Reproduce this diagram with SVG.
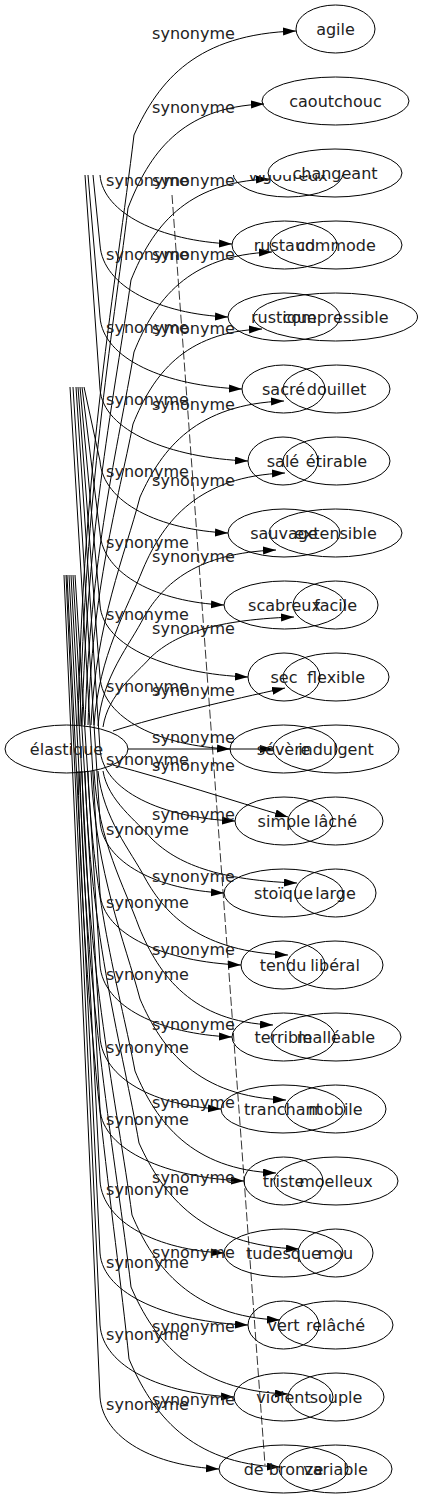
<svg xmlns="http://www.w3.org/2000/svg" width="423" height="1499" viewBox="0 0 423 1499">
<style>
.n ellipse{fill:none;stroke:#000;stroke-width:1}
.n text,.lbl{font-family:"DejaVu Sans",Verdana,sans-serif;font-size:16px;fill:#222;text-anchor:middle}
.e path{fill:none;stroke:#000;stroke-width:1;marker-end:url(#arr)}
.dash{fill:none;stroke:#000;stroke-width:0.8;stroke-dasharray:9,3}
</style>
<defs>
<marker id="arr" markerUnits="userSpaceOnUse" markerWidth="14" markerHeight="9" refX="13" refY="4" orient="auto"><path d="M0,0 L13,4 L0,8 z" fill="#000"/></marker>
<clipPath id="clipB"><rect x="0" y="175" width="423" height="1324"/></clipPath>
</defs>
<rect width="423" height="1499" fill="#fff"/>
<g id="edges" class="e">
<path d="M78,725 C83,460 116,285 134,135 C159,80 197,34 296,31"/>
<path d="M80,725 C85,493 112,339 128,208 C149,154 181,107 264,104"/>
<path d="M82,725 C87,525 115,393 131,280 C152,228 185,182 269,179"/>
<path d="M85,725 C90,557 118,447 134,352 C155,300 188,255 272,252"/>
<path d="M88,725 C92,590 118,501 133,424 C153,375 184,332 262,329"/>
<path d="M91,725 C96,622 125,555 140,497 C162,448 197,404 284,401"/>
<path d="M94,725 C99,655 127,609 143,569 C164,520 199,476 285,473"/>
<path d="M98,726 C102,676 130,645 144,617 C164,583 197,553 276,550"/>
<path d="M103,727 C108,694 136,674 150,658 C172,637 207,620 294,617"/>
<path d="M113,731 C160,716 230,700 285,688"/>
<path d="M128,749 L273,749"/>
<path d="M113,765 C170,780 230,800 288,817"/>
<path d="M103,771 C108,801 137,821 151,838 C173,860 210,880 297,883"/>
<path d="M98,771 C103,819 131,851 145,878 C166,916 202,952 288,955"/>
<path d="M94,771 C98,841 125,888 139,927 C159,976 193,1022 273,1025"/>
<path d="M91,771 C96,874 125,942 140,999 C162,1050 198,1097 286,1100"/>
<path d="M88,771 C93,906 121,996 135,1071 C156,1122 192,1170 276,1173"/>
<path d="M85,771 C90,938 123,1050 139,1143 C163,1196 203,1246 299,1249"/>
<path d="M82,771 C87,971 117,1104 132,1215 C154,1267 192,1317 280,1320"/>
<path d="M80,771 C85,1003 116,1158 131,1287 C154,1340 193,1391 288,1394"/>
<path d="M78,771 C83,1036 114,1212 129,1359 C152,1413 190,1464 280,1467"/>
<path d="M100,175 C103,213 160,241 232,244"/>
<path d="M93,175 L100,245 C103,287 160,314 228,317"/>
<path d="M88,175 L100,317 C103,359 165,386 242,389"/>
<path d="M85,175 L100,389 C103,431 170,458 248,461"/>
<path d="M84,387 L100,461 C103,503 160,530 228,533"/>
<path d="M82,387 L100,533 C103,575 158,602 224,605"/>
<path d="M80,387 L100,605 C103,647 170,674 248,677"/>
<path d="M78,387 L100,677 C103,719 160,746 230,749"/>
<path d="M76,387 L100,749 C103,791 162,818 235,821"/>
<path d="M73,387 L100,821 C103,863 158,890 224,893"/>
<path d="M70,387 L100,893 C103,935 165,962 241,965"/>
<path d="M75,575 L100,965 C103,1007 160,1034 232,1037"/>
<path d="M73,575 L100,1037 C103,1079 155,1106 221,1109"/>
<path d="M71,575 L100,1109 C103,1151 168,1178 244,1181"/>
<path d="M69,575 L100,1181 C103,1223 158,1250 224,1253"/>
<path d="M67,575 L100,1253 C103,1295 170,1322 248,1325"/>
<path d="M66,575 L100,1325 C103,1367 162,1394 234,1397"/>
<path d="M64,575 L100,1397 C103,1439 155,1466 219,1469"/>
<line class="dash" x1="172" y1="195" x2="265" y2="1465"/>
</g>
<g id="labels">
<text class="lbl" x="193.5" y="39">synonyme</text>
<text class="lbl" x="193.5" y="113">synonyme</text>
<text class="lbl" x="193.5" y="186">synonyme</text>
<text class="lbl" x="193.5" y="260">synonyme</text>
<text class="lbl" x="193.5" y="334">synonyme</text>
<text class="lbl" x="193.5" y="410">synonyme</text>
<text class="lbl" x="193.5" y="486">synonyme</text>
<text class="lbl" x="193.5" y="562">synonyme</text>
<text class="lbl" x="193.5" y="634">synonyme</text>
<text class="lbl" x="193.5" y="696">synonyme</text>
<text class="lbl" x="193.5" y="743">synonyme</text>
<text class="lbl" x="193.5" y="771">synonyme</text>
<text class="lbl" x="193.5" y="820">synonyme</text>
<text class="lbl" x="193.5" y="882">synonyme</text>
<text class="lbl" x="193.5" y="955">synonyme</text>
<text class="lbl" x="193.5" y="1030">synonyme</text>
<text class="lbl" x="193.5" y="1108">synonyme</text>
<text class="lbl" x="193.5" y="1183">synonyme</text>
<text class="lbl" x="193.5" y="1258">synonyme</text>
<text class="lbl" x="193.5" y="1332">synonyme</text>
<text class="lbl" x="193.5" y="1405">synonyme</text>
<text class="lbl" x="147.5" y="186">synonyme</text>
<text class="lbl" x="147.5" y="260">synonyme</text>
<text class="lbl" x="147.5" y="333">synonyme</text>
<text class="lbl" x="147.5" y="405">synonyme</text>
<text class="lbl" x="147.5" y="477">synonyme</text>
<text class="lbl" x="147.5" y="548">synonyme</text>
<text class="lbl" x="147.5" y="620">synonyme</text>
<text class="lbl" x="147.5" y="692">synonyme</text>
<text class="lbl" x="147.5" y="765">synonyme</text>
<text class="lbl" x="147.5" y="835">synonyme</text>
<text class="lbl" x="147.5" y="908">synonyme</text>
<text class="lbl" x="147.5" y="980">synonyme</text>
<text class="lbl" x="147.5" y="1053">synonyme</text>
<text class="lbl" x="147.5" y="1125">synonyme</text>
<text class="lbl" x="147.5" y="1195">synonyme</text>
<text class="lbl" x="147.5" y="1268">synonyme</text>
<text class="lbl" x="147.5" y="1340">synonyme</text>
<text class="lbl" x="147.5" y="1410">synonyme</text>
</g>
<g id="node-elastique" class="n"><ellipse cx="66.5" cy="749" rx="61.5" ry="24"/><text x="66.5" y="755">élastique</text></g>
<g id="node-agile" class="n"><ellipse cx="335.5" cy="29" rx="39.5" ry="24"/><text x="335.5" y="35">agile</text></g>
<g id="node-caoutchouc" class="n"><ellipse cx="335.5" cy="101" rx="73.5" ry="24"/><text x="335.5" y="107">caoutchouc</text></g>
<g id="node-changeant" class="n"><ellipse cx="335" cy="173" rx="67" ry="24"/><text x="335" y="179">changeant</text></g>
<g id="node-commode" class="n"><ellipse cx="336" cy="245" rx="66" ry="24"/><text x="336" y="251">commode</text></g>
<g id="node-compressible" class="n"><ellipse cx="335.5" cy="317" rx="82" ry="24"/><text x="335.5" y="323">compressible</text></g>
<g id="node-douillet" class="n"><ellipse cx="336.5" cy="389" rx="53.5" ry="24"/><text x="336.5" y="395">douillet</text></g>
<g id="node-etirable" class="n"><ellipse cx="336.5" cy="461" rx="53.5" ry="24"/><text x="336.5" y="467">étirable</text></g>
<g id="node-extensible" class="n"><ellipse cx="335.5" cy="533" rx="66.5" ry="24"/><text x="335.5" y="539">extensible</text></g>
<g id="node-facile" class="n"><ellipse cx="335.5" cy="605" rx="42.5" ry="24"/><text x="335.5" y="611">facile</text></g>
<g id="node-flexible" class="n"><ellipse cx="336" cy="677" rx="53" ry="24"/><text x="336" y="683">flexible</text></g>
<g id="node-indulgent" class="n"><ellipse cx="336" cy="749" rx="63" ry="24"/><text x="336" y="755">indulgent</text></g>
<g id="node-lache" class="n"><ellipse cx="335.5" cy="821" rx="47.5" ry="24"/><text x="335.5" y="827">lâché</text></g>
<g id="node-large" class="n"><ellipse cx="335.5" cy="893" rx="40.5" ry="24"/><text x="335.5" y="899">large</text></g>
<g id="node-liberal" class="n"><ellipse cx="335" cy="965" rx="48" ry="24"/><text x="335" y="971">libéral</text></g>
<g id="node-malleable" class="n"><ellipse cx="336" cy="1037" rx="65" ry="24"/><text x="336" y="1043">malléable</text></g>
<g id="node-mobile" class="n"><ellipse cx="335.5" cy="1109" rx="50.5" ry="24"/><text x="335.5" y="1115">mobile</text></g>
<g id="node-moelleux" class="n"><ellipse cx="336" cy="1181" rx="62" ry="24"/><text x="336" y="1187">moelleux</text></g>
<g id="node-mou" class="n"><ellipse cx="335.5" cy="1253" rx="37.5" ry="24"/><text x="335.5" y="1259">mou</text></g>
<g id="node-relache" class="n"><ellipse cx="335.5" cy="1325" rx="57.5" ry="24"/><text x="335.5" y="1331">relâché</text></g>
<g id="node-souple" class="n"><ellipse cx="336" cy="1397" rx="48" ry="24"/><text x="336" y="1403">souple</text></g>
<g id="node-variable" class="n"><ellipse cx="335.5" cy="1469" rx="56.5" ry="24"/><text x="335.5" y="1475">variable</text></g>
<g id="node-vigoureux" class="n" clip-path="url(#clipB)"><ellipse cx="288" cy="173" rx="55" ry="24"/><text x="288" y="181">vigoureux</text></g>
<g id="node-rustaud" class="n"><ellipse cx="284.5" cy="245" rx="52.5" ry="24"/><text x="284.5" y="251">rustaud</text></g>
<g id="node-rustique" class="n"><ellipse cx="284" cy="317" rx="56" ry="24"/><text x="284" y="323">rustique</text></g>
<g id="node-sacre" class="n"><ellipse cx="283.5" cy="389" rx="41.5" ry="24"/><text x="283.5" y="395">sacré</text></g>
<g id="node-sale" class="n"><ellipse cx="283" cy="461" rx="35" ry="24"/><text x="283" y="467">salé</text></g>
<g id="node-sauvage" class="n"><ellipse cx="284" cy="533" rx="56" ry="24"/><text x="284" y="539">sauvage</text></g>
<g id="node-scabreux" class="n"><ellipse cx="284.5" cy="605" rx="60.5" ry="24"/><text x="284.5" y="611">scabreux</text></g>
<g id="node-sec" class="n"><ellipse cx="284" cy="677" rx="36" ry="24"/><text x="284" y="683">sec</text></g>
<g id="node-severe" class="n"><ellipse cx="283.5" cy="749" rx="53.5" ry="24"/><text x="283.5" y="755">sévère</text></g>
<g id="node-simple" class="n"><ellipse cx="284" cy="821" rx="49" ry="24"/><text x="284" y="827">simple</text></g>
<g id="node-stoique" class="n"><ellipse cx="283.5" cy="893" rx="59.5" ry="24"/><text x="283.5" y="899">stoïque</text></g>
<g id="node-tendu" class="n"><ellipse cx="283" cy="965" rx="42" ry="24"/><text x="283" y="971">tendu</text></g>
<g id="node-terrible" class="n"><ellipse cx="283.5" cy="1037" rx="51.5" ry="24"/><text x="283.5" y="1043">terrible</text></g>
<g id="node-tranchant" class="n"><ellipse cx="283" cy="1109" rx="62" ry="24"/><text x="283" y="1115">tranchant</text></g>
<g id="node-triste" class="n"><ellipse cx="283.5" cy="1181" rx="39.5" ry="24"/><text x="283.5" y="1187">triste</text></g>
<g id="node-tudesque" class="n"><ellipse cx="283.5" cy="1253" rx="59.5" ry="24"/><text x="283.5" y="1259">tudesque</text></g>
<g id="node-vert" class="n"><ellipse cx="283.5" cy="1325" rx="35.5" ry="24"/><text x="283.5" y="1331">vert</text></g>
<g id="node-violent" class="n"><ellipse cx="283.5" cy="1397" rx="49.5" ry="24"/><text x="283.5" y="1403">violent</text></g>
<g id="node-de-bronze" class="n"><ellipse cx="283.5" cy="1469" rx="64.5" ry="24"/><text x="283.5" y="1475">de bronze</text></g>
</svg>
